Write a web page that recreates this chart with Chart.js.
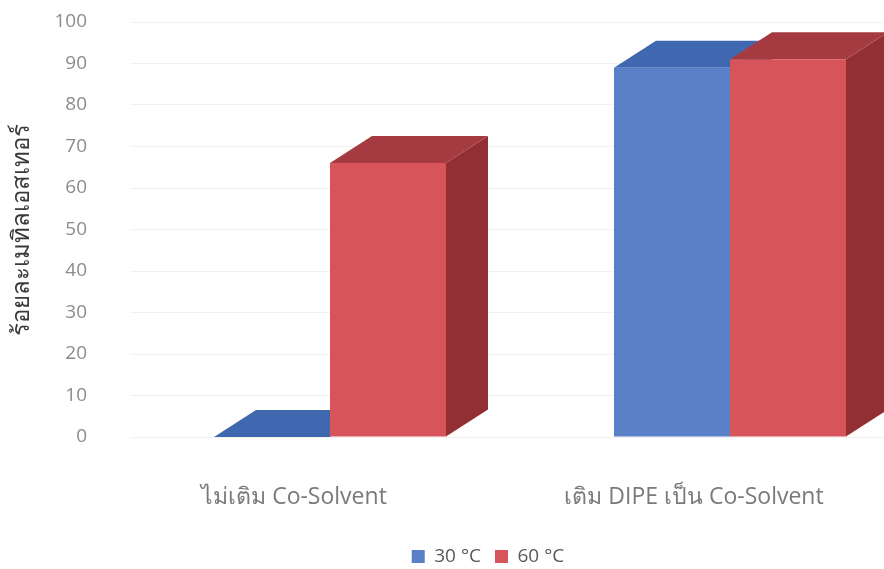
<!DOCTYPE html>
<html>
<head>
<meta charset="utf-8">
<script src="https://cdn.jsdelivr.net/npm/chart.js@4/dist/chart.umd.min.js"></script>
<style>
  html, body { margin: 0; padding: 0; background: #fff; overflow: hidden; }
  #wrap { width: 935px; height: 569px; }
</style>
</head>
<body>
<div id="wrap"><canvas id="chart"></canvas></div>
<script>
// data
const categories = ["ไม่เติม Co-Solvent", "เติม DIPE เป็น Co-Solvent"];
const seriesNames = ["30 °C", "60 °C"];
const values30 = [0, 89];
const values60 = [66, 91];
const yTitle = "ร้อยละเมทิลเอสเทอร์";

const FONT = "'Open Sans', 'Noto Sans', sans-serif";

// front / top / side colours per series
const faces = [
  { front: "#5a80c8", top: "#3f68b0", side: "#2f5597" },
  { front: "#d6545a", top: "#a53b40", side: "#922f35" }
];
const DX = 42, DY = 27;

// top and side of each bar, so it looks like the 3d column chart
const boxes = {
  id: "boxes",
  beforeDatasetsDraw(chart) {
    const ctx = chart.ctx;
    ctx.save();
    chart.data.datasets.forEach((ds, i) => {
      chart.getDatasetMeta(i).data.forEach(bar => {
        const l = bar.x - bar.width / 2, r = bar.x + bar.width / 2;
        const t = bar.y, b = bar.base;
        ctx.fillStyle = faces[i].side;
        ctx.beginPath();
        ctx.moveTo(r, t); ctx.lineTo(r + DX, t - DY);
        ctx.lineTo(r + DX, b - DY); ctx.lineTo(r, b);
        ctx.closePath(); ctx.fill();
        ctx.fillStyle = faces[i].top;
        ctx.beginPath();
        ctx.moveTo(l, t); ctx.lineTo(l + DX, t - DY);
        ctx.lineTo(r + DX, t - DY); ctx.lineTo(r, t);
        ctx.closePath(); ctx.fill();
      });
    });
    ctx.restore();
  }
};

new Chart(document.getElementById("chart"), {
  type: "bar",
  data: {
    labels: categories,
    datasets: [
      { label: seriesNames[0], data: values30, backgroundColor: faces[0].front },
      { label: seriesNames[1], data: values60, backgroundColor: faces[1].front }
    ]
  },
  options: {
    responsive: true,
    maintainAspectRatio: false,
    animation: false,
    layout: { padding: { top: 22, left: 46, right: 5, bottom: -7 } },
    datasets: { bar: { categoryPercentage: 0.58, barPercentage: 1.0 } },
    plugins: {
      tooltip: { enabled: false },
      legend: {
        position: "bottom",
        labels: {
          boxWidth: 13, boxHeight: 13, padding: 14,
          color: "#595959", font: { family: FONT, size: 19 }
        }
      }
    },
    scales: {
      x: {
        grid: { display: false },
        border: { display: false },
        ticks: {
          color: "#7a7a7a", padding: 39, labelOffset: -36,
          font: { family: FONT, size: 23 }
        },
        afterFit(s) { s.height = 96; }
      },
      y: {
        min: 0, max: 100,
        grid: { color: "#f1f1f1", drawTicks: false },
        border: { display: false },
        ticks: {
          stepSize: 10, color: "#8c8c8c", padding: 43,
          font: { family: FONT, size: 19 }
        },
        title: {
          display: true, text: yTitle, color: "#3a3a3a",
          font: { family: FONT, size: 24 }, padding: { top: -38, bottom: 0 }
        },
        afterFit(s) { s.width = 84; s.paddingTop = 10; s.paddingBottom = 10; }
      }
    }
  },
  plugins: [boxes]
});
</script>
</body>
</html>
